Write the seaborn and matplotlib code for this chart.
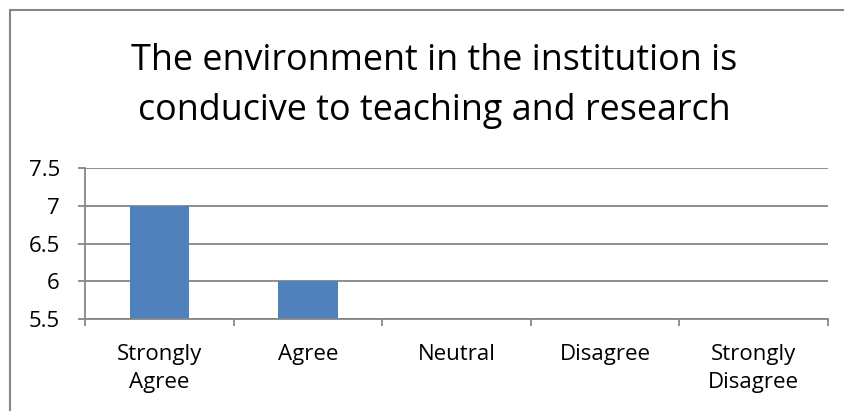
import matplotlib
matplotlib.use("Agg")
import matplotlib.pyplot as plt
import seaborn as sns
import pandas as pd
from matplotlib.lines import Line2D

# data
categories = ["Strongly\nAgree", "Agree", "Neutral", "Disagree", "Strongly\nDisagree"]
values = [7, 6, 0, 0, 0]
y_ticks = [5.5, 6, 6.5, 7, 7.5]
title_lines = ["The environment in the institution is", "conducive to teaching and research"]

df = pd.DataFrame({"response": categories, "count": values})

sns.set_theme(style="white")
plt.rcParams["font.family"] = ["Open Sans", "DejaVu Sans"]
plt.rcParams["text.color"] = "black"

grey = "#868686"
fig = plt.figure(figsize=(8.44, 4.11), dpi=100)
ax = fig.add_axes([85 / 844, 1 - 319 / 411, (828 - 85) / 844, (319 - 168) / 411])

sns.barplot(data=df, x="response", y="count", color="#4F81BD", width=0.4,
            saturation=1, linewidth=0, ax=ax)

ax.set_ylim(5.5, 7.5)
ax.set_xlim(-0.5, len(categories) - 0.5)
ax.set_yticks(y_ticks)
ax.set_yticklabels(["{:g}".format(t) for t in y_ticks])
ax.yaxis.grid(True, color=grey, linewidth=1.3)
ax.set_axisbelow(True)
ax.set_xlabel("")
ax.set_ylabel("")

ax.set_xticks([i - 0.5 for i in range(len(categories) + 1)], minor=True)
ax.tick_params(axis="x", which="major", length=0, labelsize=16, pad=18,
               labelcolor="black")
ax.tick_params(axis="x", which="minor", length=5, width=1.3, color=grey, bottom=True)
ax.tick_params(axis="y", length=5, width=1.3, color=grey, labelsize=16, left=True,
               pad=13, labelcolor="black")
for lab in ax.get_xticklabels():
    lab.set_linespacing(1.45)

for side in ["top", "right"]:
    ax.spines[side].set_visible(False)
for side in ["left", "bottom"]:
    ax.spines[side].set_color(grey)
    ax.spines[side].set_linewidth(1.3)

# title, two lines placed on their baselines
fig.text(434 / 844, 1 - 70 / 411, title_lines[0], ha="center", va="baseline", fontsize=25.8)
fig.text(434 / 844, 1 - 120 / 411, title_lines[1], ha="center", va="baseline", fontsize=25.8)

# chart border (only the left and top edges are inside the crop)
fig.add_artist(Line2D([9.5 / 844, 9.5 / 844], [0, 1 - 10.5 / 411], color=grey, lw=1.5))
fig.add_artist(Line2D([9.5 / 844, 1], [1 - 10.5 / 411, 1 - 10.5 / 411], color=grey, lw=1.5))

fig.savefig("out.png", dpi=100, facecolor="white")
